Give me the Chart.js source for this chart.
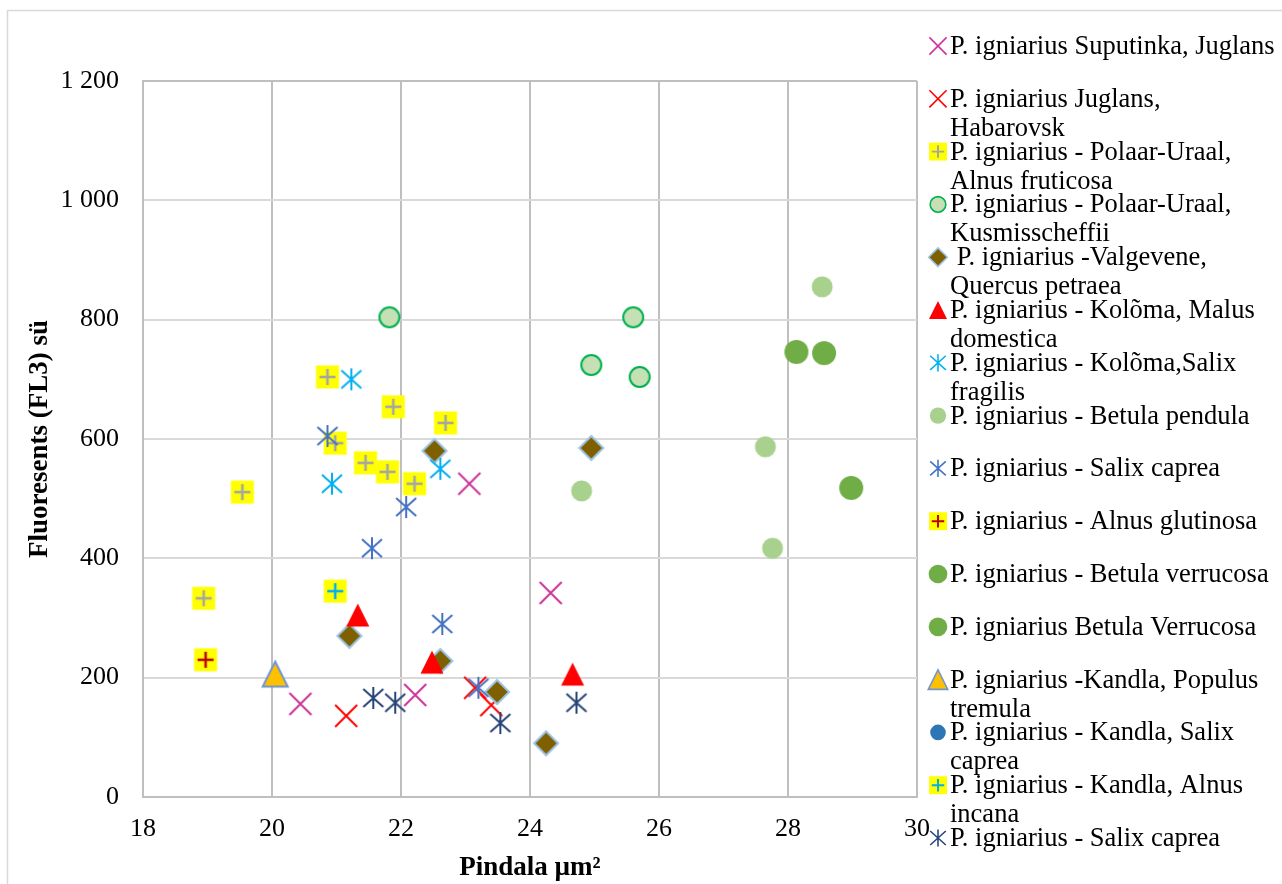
<!DOCTYPE html>
<html>
<head>
<meta charset="utf-8">
<script src="https://cdn.jsdelivr.net/npm/chart.js@4.4.1/dist/chart.umd.min.js"></script>
<style>
  body { margin: 0; background: #fff; }
  canvas { display: block; }
</style>
</head>
<body>
<canvas id="chart" width="1282" height="884"></canvas>
<script>
const serif = "'Liberation Serif', 'Times New Roman', serif";

// [pindala µm², fluorescence FL3] per isolate
const suputinkaJuglans = [[20.44, 156], [22.22, 171], [23.06, 525], [24.32, 342]];
const juglansHabarovsk = [[21.15, 136], [23.15, 183], [23.4, 154]];
const polaarAlnusFruticosa = [[20.86, 704], [21.88, 654], [22.69, 627], [20.98, 593], [21.45, 560],
  [21.79, 545], [22.21, 525], [19.54, 511], [18.94, 333]];
const polaarKusmisscheffii = [[21.82, 804], [25.6, 804], [24.95, 724], [25.7, 704]];
const valgeveneQuercus = [[22.52, 580], [24.95, 585], [21.2, 270], [22.61, 228], [23.49, 176], [24.25, 90]];
const kolomaMalus = [[21.33, 305], [22.48, 226], [24.66, 206]];
const kolomaSalixFragilis = [[21.23, 700], [20.93, 525], [22.61, 550]];
const betulaPendula = [[28.53, 855], [27.65, 587], [24.8, 513], [27.76, 417]];
const salixCaprea = [[20.86, 605], [22.08, 486], [21.55, 417], [22.64, 290], [23.2, 183]];
const alnusGlutinosa = [[18.97, 230]];
const betulaVerrucosa = [[28.13, 746], [28.56, 744]];
const betulaVerrucosa2 = [[28.98, 518]];
const kandlaPopulus = [[20.05, 206]];
const kandlaSalixCaprea = [];
const kandlaAlnusIncana = [[20.98, 345]];
const salixCaprea2 = [[21.57, 166], [21.91, 158], [23.54, 124], [24.72, 158]];

const seriesData = [suputinkaJuglans, juglansHabarovsk, polaarAlnusFruticosa, polaarKusmisscheffii,
  valgeveneQuercus, kolomaMalus, kolomaSalixFragilis, betulaPendula, salixCaprea, alnusGlutinosa,
  betulaVerrucosa, betulaVerrucosa2, kandlaPopulus, kandlaSalixCaprea, kandlaAlnusIncana, salixCaprea2];

const legendLabels = [
  'P. igniarius Suputinka, Juglans',
  ['P. igniarius Juglans,', 'Habarovsk'],
  ['P. igniarius - Polaar-Uraal,', 'Alnus fruticosa'],
  ['P. igniarius - Polaar-Uraal,', 'Kusmisscheffii'],
  [' P. igniarius -Valgevene,', 'Quercus petraea'],
  ['P. igniarius - Kolõma, Malus', 'domestica'],
  ['P. igniarius - Kolõma,Salix', 'fragilis'],
  'P. igniarius - Betula pendula',
  'P. igniarius - Salix caprea',
  'P. igniarius - Alnus glutinosa',
  'P. igniarius - Betula verrucosa',
  'P. igniarius Betula Verrucosa',
  ['P. igniarius -Kandla, Populus', 'tremula'],
  ['P. igniarius - Kandla, Salix', 'caprea'],
  ['P. igniarius - Kandla, Alnus', 'incana'],
  'P. igniarius - Salix caprea'
];

const xRange = [18, 30, 2];
const yRange = [0, 1200, 200];

// marker look for each series
const markers = [
  { shape: 'x', color: '#CC3399' },
  { shape: 'x', color: '#FF0000' },
  { shape: 'plus', color: '#A5A5A5' },
  { shape: 'circle', r: 10, fill: '#C5E0B4', line: '#00B050' },
  { shape: 'diamond', fill: '#7F6000', line: '#9DC3E6' },
  { shape: 'triangle', h: 11.5, fill: '#FF0000' },
  { shape: 'star', color: '#00B0F0' },
  { shape: 'circle', r: 10.5, fill: '#A9D18E' },
  { shape: 'star', color: '#4472C4' },
  { shape: 'plus', color: '#C00000' },
  { shape: 'circle', r: 12, fill: '#70AD47' },
  { shape: 'circle', r: 12, fill: '#70AD47' },
  { shape: 'triangle', h: 12.5, fill: '#FFC000', line: '#6F95D3' },
  { shape: 'circle', r: 10, fill: '#2E75B6' },
  { shape: 'plus', color: '#00B0F0' },
  { shape: 'star', color: '#264478' }
];

function paintMarker(ctx, m, cx, cy, k) {
  ctx.save();
  ctx.translate(cx, cy);
  ctx.scale(k, k);
  ctx.beginPath();
  if (m.shape === 'x') {
    ctx.moveTo(-11, -11); ctx.lineTo(11, 11);
    ctx.moveTo(11, -11); ctx.lineTo(-11, 11);
    ctx.strokeStyle = m.color; ctx.lineWidth = 2; ctx.stroke();
  } else if (m.shape === 'star') {
    ctx.moveTo(0, -11); ctx.lineTo(0, 11);
    ctx.moveTo(-10, -9); ctx.lineTo(10, 9);
    ctx.moveTo(10, -9); ctx.lineTo(-10, 9);
    ctx.strokeStyle = m.color; ctx.lineWidth = 2; ctx.stroke();
  } else if (m.shape === 'plus') {
    ctx.fillStyle = '#FFFF00';
    ctx.fillRect(-11.5, -11.5, 23, 23);
    ctx.moveTo(-8, 0); ctx.lineTo(8, 0);
    ctx.moveTo(0, -8); ctx.lineTo(0, 8);
    ctx.strokeStyle = m.color; ctx.lineWidth = 2.5; ctx.stroke();
  } else if (m.shape === 'circle') {
    ctx.arc(0, 0, m.r, 0, Math.PI * 2);
    ctx.fillStyle = m.fill; ctx.fill();
    if (m.line) { ctx.strokeStyle = m.line; ctx.lineWidth = 2; ctx.stroke(); }
  } else if (m.shape === 'diamond') {
    ctx.moveTo(0, -12); ctx.lineTo(12, 0); ctx.lineTo(0, 12); ctx.lineTo(-12, 0); ctx.closePath();
    ctx.fillStyle = m.fill; ctx.fill();
    ctx.strokeStyle = m.line; ctx.lineWidth = 2; ctx.stroke();
  } else if (m.shape === 'triangle') {
    const h = m.h;
    ctx.moveTo(0, -h); ctx.lineTo(h, h); ctx.lineTo(-h, h); ctx.closePath();
    ctx.fillStyle = m.fill; ctx.fill();
    if (m.line) { ctx.strokeStyle = m.line; ctx.lineWidth = 2; ctx.stroke(); }
  }
  ctx.restore();
}

function markerImage(m) {
  const c = document.createElement('canvas');
  c.width = 32; c.height = 32;
  paintMarker(c.getContext('2d'), m, 16, 16, 1);
  return c;
}

const spaced = v => String(v).replace(/\B(?=(\d{3})+(?!\d))/g, ' ');

const frame = {
  id: 'frame',
  beforeDraw(chart) {
    const ctx = chart.ctx;
    ctx.save();
    ctx.fillStyle = '#fff';
    ctx.fillRect(0, 0, chart.width, chart.height);
    ctx.strokeStyle = '#D9D9D9';
    ctx.lineWidth = 1.5;
    ctx.strokeRect(7.5, 10.5, chart.width, chart.height);
    ctx.restore();
  }
};

// legend on the right, Excel-like: wrapped names, fixed row pitch
const sideLegend = {
  id: 'sideLegend',
  afterDraw(chart) {
    const ctx = chart.ctx;
    ctx.save();
    ctx.font = '26.5px ' + serif;
    ctx.fillStyle = '#000';
    ctx.textBaseline = 'middle';
    legendLabels.forEach((label, i) => {
      const y = 46 + i * 52.8;
      paintMarker(ctx, markers[i], 938, y, 0.78);
      const lines = Array.isArray(label) ? label : [label];
      lines.forEach((line, j) => ctx.fillText(line, 950, y + 1 + j * 29));
    });
    ctx.restore();
  }
};

const datasets = seriesData.map((pts, i) => ({
  label: Array.isArray(legendLabels[i]) ? legendLabels[i].join(' ') : legendLabels[i],
  data: pts.map(([x, y]) => ({ x, y })),
  pointStyle: markerImage(markers[i]),
  pointRadius: 12,
  showLine: false,
  order: -i
}));

new Chart(document.getElementById('chart'), {
  type: 'scatter',
  data: { datasets },
  options: {
    responsive: false,
    animation: false,
    layout: { padding: { left: 0, top: 81, right: 365, bottom: 0 } },
    plugins: {
      legend: { display: false },
      tooltip: { enabled: false }
    },
    scales: {
      x: {
        type: 'linear',
        min: xRange[0], max: xRange[1],
        ticks: { stepSize: xRange[2], color: '#000', font: { family: serif, size: 26 }, padding: 17 },
        grid: { color: '#BFBFBF', lineWidth: 2, drawTicks: false },
        border: { color: '#BFBFBF', width: 2 },
        title: {
          display: true, text: 'Pindala µm²', color: '#000',
          font: { family: serif, size: 27, weight: 'bold' },
          padding: { top: 0, bottom: 0 }
        },
        afterFit(s) { s.height = 87; }
      },
      y: {
        min: yRange[0], max: yRange[1],
        ticks: {
          stepSize: yRange[2], color: '#000', font: { family: serif, size: 26 }, padding: 24,
          callback: v => spaced(v)
        },
        grid: {
          color: c => (c.tick && c.tick.value === yRange[1]) ? '#BFBFBF' : '#D9D9D9',
          lineWidth: 2, drawTicks: false
        },
        border: { color: '#BFBFBF', width: 2 },
        title: {
          display: true, text: 'Fluoresents (FL3) sü', color: '#000',
          font: { family: serif, size: 27, weight: 'bold' },
          padding: { top: 24, bottom: 0 }
        },
        afterFit(s) { s.width = 143; }
      }
    }
  },
  plugins: [frame, sideLegend]
});
</script>
</body>
</html>
